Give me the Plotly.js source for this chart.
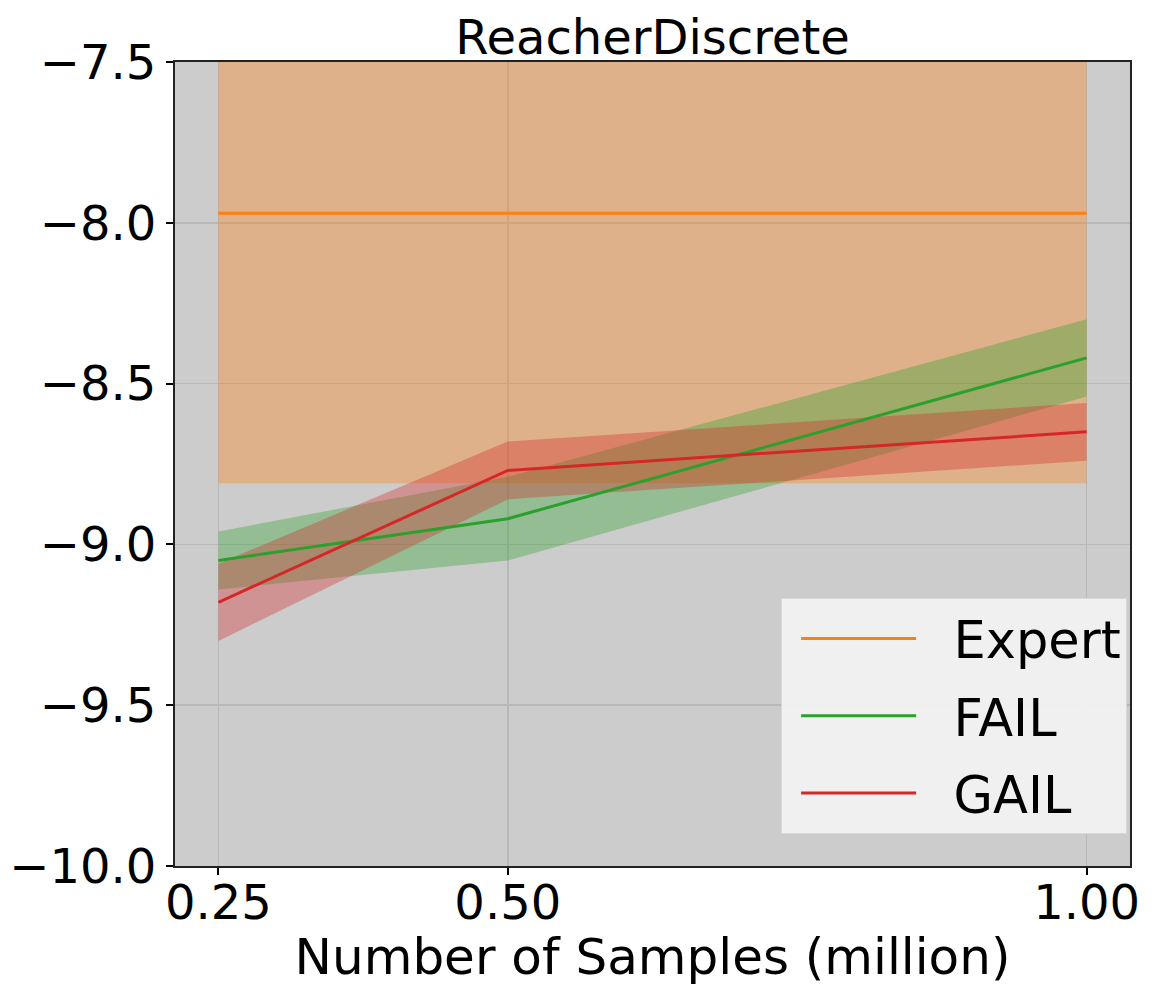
<!DOCTYPE html>
<html>
<head>
<meta charset="utf-8">
<script src="https://cdn.plot.ly/plotly-3.0.1.min.js"></script>
<style>html,body{margin:0;padding:0;background:#fff;}#chart{width:1152px;height:986px;}</style>
</head>
<body>
<div id="chart"></div>
<script>
// Data
const samples = [0.25, 0.50, 1.00];
const tickLabels = ["0.25", "0.50", "1.00"];
const expertMean = [-7.97, -7.97, -7.97];
const expertStd = [0.84, 0.84, 0.84];
const failMean = [-9.05, -8.92, -8.42];
const failStd = [0.09, 0.13, 0.12];
const gailMean = [-9.18, -8.77, -8.65];
const gailStd = [0.12, 0.09, 0.09];
const seriesNames = ["Expert", "FAIL", "GAIL"];

const series = [
  {name: seriesNames[0], mean: expertMean, std: expertStd, color: "#ff7f0e", fill: "rgba(255,127,14,0.35)"},
  {name: seriesNames[1], mean: failMean, std: failStd, color: "#2ca02c", fill: "rgba(44,160,44,0.35)"},
  {name: seriesNames[2], mean: gailMean, std: gailStd, color: "#d62728", fill: "rgba(214,39,40,0.35)"}
];

const traces = [];
series.forEach(s => {
  const upper = s.mean.map((m, i) => m + s.std[i]);
  const lower = s.mean.map((m, i) => m - s.std[i]);
  traces.push({x: samples, y: upper, mode: "lines", line: {width: 0}, showlegend: false, hoverinfo: "skip", type: "scatter"});
  traces.push({x: samples, y: lower, mode: "lines", line: {width: 0}, fill: "tonexty", fillcolor: s.fill, showlegend: false, hoverinfo: "skip", type: "scatter"});
});
series.forEach(s => {
  traces.push({x: samples, y: s.mean, mode: "lines", name: "\u00a0\u00a0" + s.name, legendgroup: s.name, line: {color: s.color, width: 3}, type: "scatter"});
});

const font = {family: "DejaVu Sans, sans-serif", color: "#000"};
const layout = {
  width: 1152, height: 986,
  margin: {l: 175, r: 22, t: 62, b: 120},
  paper_bgcolor: "#ffffff",
  plot_bgcolor: "#cccccc",
  font: font,
  title: {text: "ReacherDiscrete", font: {family: font.family, size: 48, color: "#000"}, xref: "paper", x: 0.5, xanchor: "center", yref: "container", y: 0.962, yanchor: "middle"},
  xaxis: {
    range: [0.2125, 1.0375], tickvals: samples, ticktext: tickLabels,
    tickfont: {size: 48}, ticks: "outside", ticklen: 7, tickwidth: 2, tickcolor: "#000",
    ticklabelstandoff: -14,
    showline: true, linecolor: "#222", linewidth: 2, mirror: true,
    showgrid: true, gridcolor: "#b8b8b8", gridwidth: 1.5, zeroline: false,
    title: {text: "Number of Samples (million)", font: {size: 50}, standoff: 0}
  },
  yaxis: {
    range: [-10, -7.5], dtick: 0.5, tick0: -10, tickformat: ".1f",
    tickfont: {size: 48}, ticks: "outside", ticklen: 7, tickwidth: 2, tickcolor: "#000",
    showline: true, linecolor: "#222", linewidth: 2, mirror: true,
    showgrid: true, gridcolor: "#b8b8b8", gridwidth: 1.5, zeroline: false
  },
  legend: {
    x: 0.997, xanchor: "right", y: 0.04, yanchor: "bottom",
    bgcolor: "rgba(243,243,243,0.92)", bordercolor: "#d8d8d8", borderwidth: 1,
    font: {size: 51, family: font.family}, itemwidth: 115, indentation: 14, tracegroupgap: 8,
    traceorder: "grouped"
  },
  showlegend: true
};

Plotly.newPlot("chart", traces, layout, {staticPlot: true, displayModeBar: false});
</script>
</body>
</html>
